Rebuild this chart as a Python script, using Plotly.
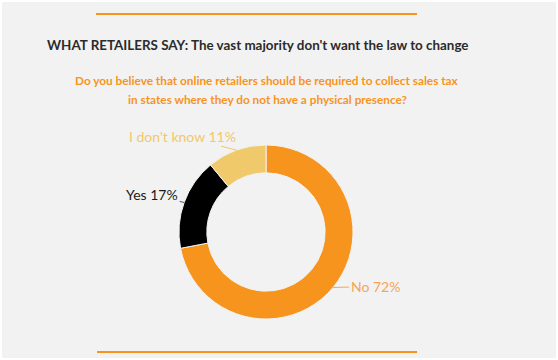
import math
import plotly.graph_objects as go

labels = ["No", "Yes", "I don't know"]
values = [72, 17, 11]
colors = ["#f7941d", "#000000", "#f0c96b"]
text_colors = ["#f5a55a", "#1a1a1a", "#f0c96b"]
line_colors = ["#f5a55a", "#555555", "#f0c96b"]
label_offsets = [(42, -1), (-32, -8), (-54, -14)]

title = "WHAT RETAILERS SAY: The vast majority don't want the law to change"
subtitle_lines = ["Do you believe that online retailers should be required to collect sales tax",
                  "in states where they do not have a physical presence?"]

W, H = 558, 360
cx, cy, R = 266, 232, 87

fig = go.Figure()
fig.add_trace(go.Pie(
    labels=labels, values=values, sort=False, direction="clockwise", rotation=0,
    hole=0.68, marker=dict(colors=colors, line=dict(color="#f2f2f2", width=1)),
    textinfo="none", hoverinfo="label+percent", showlegend=False,
    domain=dict(x=[(cx - R) / W, (cx + R) / W], y=[(H - cy - R) / H, (H - cy + R) / H]),
))

total = sum(values)
cum = 0
for lab, v, tc, lc, (ax, ay) in zip(labels, values, text_colors, line_colors, label_offsets):
    mid = (cum + v / 2) / total * 2 * math.pi
    cum += v
    px = cx + R * math.sin(mid)
    py = cy - R * math.cos(mid)
    fig.add_annotation(
        x=px / W, y=1 - py / H, xref="paper", yref="paper",
        text=f"{lab} {round(v / total * 100)}%", showarrow=True, arrowhead=0,
        arrowwidth=1, arrowcolor=lc, ax=ax, ay=ay, standoff=0,
        font=dict(family="Lato", size=14, color=tc),
    )

fig.add_annotation(x=258 / W, y=1 - 45 / H, xref="paper", yref="paper", text=f"<b>{title}</b>",
                   xanchor="center", yanchor="middle", showarrow=False,
                   font=dict(family="Lato", size=13.4, color="#2b2b2b"))
for i, line in enumerate(subtitle_lines):
    fig.add_annotation(x=267 / W, y=1 - (80 + 19.5 * i) / H, xref="paper", yref="paper", text=f"<b>{line}</b>",
                       xanchor="center", yanchor="middle", showarrow=False,
                       font=dict(family="Lato", size=11.8, color="#f7941d"))

shapes = [
    dict(type="line", xref="paper", yref="paper", x0=96 / W, x1=417 / W, y0=1 - 14 / H, y1=1 - 14 / H,
         line=dict(color="#f7941d", width=2)),
    dict(type="line", xref="paper", yref="paper", x0=97 / W, x1=417 / W, y0=1 - 352 / H, y1=1 - 352 / H,
         line=dict(color="#f7941d", width=2)),
    dict(type="rect", xref="paper", yref="paper", x0=0, x1=1, y0=0, y1=1,
         line=dict(color="#ffffff", width=4)),
]

fig.update_layout(
    width=W, height=H, margin=dict(l=0, r=0, t=0, b=0),
    paper_bgcolor="#f2f2f2", plot_bgcolor="#f2f2f2", shapes=shapes,
)
fig.write_html("out.html", config={"displayModeBar": False},
               post_script="document.body.style.margin='0';document.body.style.overflow='hidden';")
